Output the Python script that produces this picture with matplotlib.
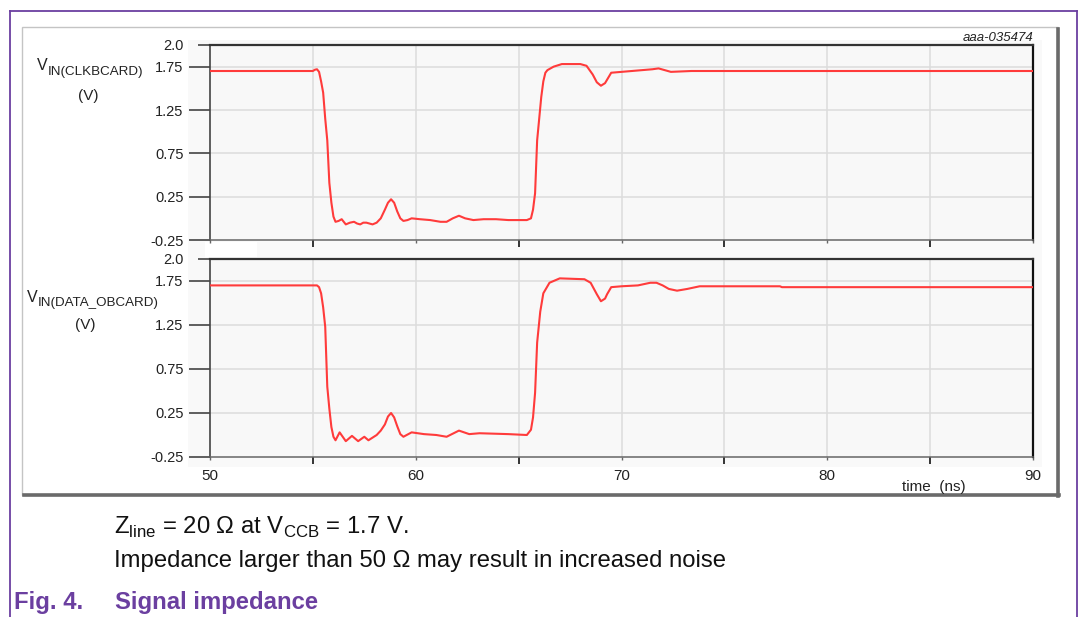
import numpy as np
import matplotlib.pyplot as plt
from matplotlib.lines import Line2D
from matplotlib.patches import Rectangle

plt.rcParams['font.family'] = ['Liberation Sans', 'DejaVu Sans']
plt.rcParams['mathtext.fontset'] = 'custom'
plt.rcParams['mathtext.rm'] = 'Liberation Sans'

# ---------------------------------------------------------------------------
# data (time in ns, voltage in V)
# ---------------------------------------------------------------------------
t_clk = [50.0, 55.0, 55.1, 55.2, 55.3, 55.4, 55.5, 55.6, 55.7, 55.8, 55.9, 56.0,
         56.1, 56.25, 56.4, 56.6, 56.8, 57.0, 57.15, 57.3, 57.45, 57.6, 57.9,
         58.1, 58.3, 58.5, 58.65, 58.8, 58.95, 59.1, 59.25, 59.4, 59.6, 59.8,
         60.2, 60.7, 61.2, 61.5, 61.8, 62.1, 62.4, 62.8, 63.3, 63.9, 64.5,
         65.4, 65.6, 65.7, 65.8, 65.9, 66.0, 66.1, 66.2, 66.3, 66.4, 66.7,
         67.1, 68.0, 68.3, 68.6, 68.8, 69.0, 69.2, 69.3, 69.5, 70.0, 70.5,
         71.0, 71.5, 71.8, 72.1, 72.4, 73.4, 90.0]
v_clk = [1.70, 1.70, 1.715, 1.72, 1.69, 1.58, 1.45, 1.15, 0.90, 0.41, 0.18, 0.02,
         -0.04, -0.03, -0.01, -0.07, -0.05, -0.04, -0.06, -0.07, -0.05, -0.05,
         -0.07, -0.05, 0.00, 0.10, 0.18, 0.22, 0.18, 0.08, 0.00, -0.03, -0.02,
         0.00, -0.01, -0.02, -0.04, -0.04, 0.00, 0.03, 0.00, -0.02, -0.01,
         -0.01, -0.02, -0.02, 0.00, 0.10, 0.29, 0.90, 1.15, 1.40, 1.58, 1.68,
         1.71, 1.75, 1.78, 1.78, 1.76, 1.66, 1.57, 1.53, 1.56, 1.60, 1.68,
         1.69, 1.70, 1.71, 1.72, 1.73, 1.71, 1.69, 1.70, 1.70]

t_data = [50.0, 55.2, 55.3, 55.4, 55.5, 55.6, 55.7, 55.8, 55.9, 56.0, 56.1,
          56.3, 56.45, 56.6, 56.9, 57.2, 57.5, 57.7, 58.1, 58.3, 58.5, 58.65,
          58.8, 58.95, 59.1, 59.25, 59.4, 59.8, 60.4, 61.0, 61.5, 62.1, 62.6,
          63.1, 64.5, 65.4, 65.6, 65.7, 65.8, 65.9, 66.05, 66.2, 66.5, 67.0,
          68.2, 68.5, 68.8, 69.0, 69.2, 69.3, 69.5, 70.0, 70.8, 71.4, 71.7,
          72.0, 72.3, 72.7, 73.2, 73.8, 77.7, 77.8, 90.0]
v_data = [1.70, 1.70, 1.68, 1.61, 1.45, 1.23, 0.55, 0.30, 0.09, -0.02, -0.06,
          0.03, -0.02, -0.07, -0.01, -0.07, -0.02, -0.06, 0.00, 0.05, 0.12,
          0.21, 0.25, 0.20, 0.10, 0.01, -0.02, 0.03, 0.01, 0.00, -0.02, 0.05,
          0.01, 0.02, 0.01, 0.00, 0.06, 0.20, 0.48, 1.05, 1.40, 1.61, 1.73,
          1.78, 1.77, 1.73, 1.60, 1.52, 1.55, 1.60, 1.68, 1.69, 1.70, 1.73,
          1.73, 1.70, 1.66, 1.64, 1.66, 1.69, 1.69, 1.68, 1.68]

y_major = [-0.25, 0.25, 0.75, 1.25, 1.75]
y_major_labels = ['-0.25', '0.25', '0.75', '1.25', '1.75']
y_top = [2.0]
y_top_labels = ['2.0']
x_labelled = [50, 60, 70, 80, 90]
x_long = [55, 65, 75, 85]
x_grid = [55, 60, 65, 70, 75, 80, 85]

W, H = 1079, 617
RED = '#ff3b3b'
PURPLE = '#6b3fa0'
TXT = '#222222'


def fx(px):
    return px / W


def fy(py):
    return 1 - py / H


fig = plt.figure(figsize=(W / 100, H / 100), dpi=100)

# page decorations: purple frame, grey shadowed box, light plot backdrop (behind the axes)
for xs, ys in [([10, 10], [11, 617]), ([10, 1077], [11, 11]), ([1077, 1077], [11, 617])]:
    fig.add_artist(Line2D([fx(v) for v in xs], [fy(v) for v in ys], color=PURPLE, lw=1.3,
                          zorder=-10))
fig.add_artist(Rectangle((fx(22), fy(495)), fx(1058) - fx(22), fy(27) - fy(495),
                         facecolor='white', edgecolor='#c4c4c4', lw=1.0, zorder=-10))
fig.add_artist(Line2D([fx(1058), fx(1058)], [fy(29), fy(496)], color='#6a6a6a', lw=2.6,
                      zorder=-9))
fig.add_artist(Line2D([fx(24), fx(1059)], [fy(495), fy(495)], color='#6a6a6a', lw=2.6,
                      zorder=-9))
fig.add_artist(Rectangle((fx(188), fy(467)), fx(1042) - fx(188), fy(40) - fy(467),
                         facecolor='#f9f9f9', edgecolor='none', zorder=-8))
fig.add_artist(Rectangle((fx(205), fy(257)), fx(257) - fx(205), fy(242) - fy(257),
                         facecolor='white', edgecolor='none', zorder=-7))

ax_top = fig.add_axes([fx(210), fy(240), fx(1033) - fx(210), fy(45) - fy(240)])
ax_bot = fig.add_axes([fx(210), fy(457), fx(1033) - fx(210), fy(259) - fy(457)])

for ax, t, v in [(ax_top, t_clk, v_clk), (ax_bot, t_data, v_data)]:
    ax.set_facecolor('#f8f8f8')
    ax.plot(t, v, color=RED, lw=1.5, solid_joinstyle='round', zorder=3)
    ax.set_xlim(50, 90)
    ax.set_ylim(-0.25, 2.0)
    for g in x_grid:
        ax.axvline(g, color='#dcdcdc', lw=1.1, zorder=1)
    for g in y_major[1:]:
        ax.axhline(g, color='#dcdcdc', lw=1.1, zorder=1)

    ax.set_yticks(y_major, y_major_labels)
    ax.set_yticks(y_top, y_top_labels, minor=True)
    ax.tick_params(axis='y', which='major', direction='out', length=15, width=1.2,
                   color='#444444', pad=4.0, labelsize=10.5, labelcolor=TXT)
    ax.tick_params(axis='y', which='minor', direction='out', length=8.6, width=1.2,
                   color='#444444', pad=10.4, labelsize=10.5, labelcolor=TXT)

    ax.set_xticks(x_labelled)
    ax.set_xticks(x_long, minor=True)
    ax.tick_params(axis='x', which='major', direction='out', length=2.5, width=1.0,
                   color='#666666', pad=6.0, labelsize=11, labelcolor=TXT)
    ax.tick_params(axis='x', which='minor', direction='out', length=5, width=1.4,
                   color='#333333')

    ax.spines['top'].set_color('#333333')
    ax.spines['top'].set_linewidth(1.6)
    ax.spines['left'].set_color('#444444')
    ax.spines['left'].set_linewidth(1.2)
    ax.spines['right'].set_color('#111111')
    ax.spines['right'].set_linewidth(1.6)
    ax.spines['bottom'].set_color('#666666')
    ax.spines['bottom'].set_linewidth(1.1)

ax_top.tick_params(axis='x', labelbottom=False)

# y axis labels (V with large subscript)
fig.text(fx(37), fy(65), 'V', fontsize=11.5, color=TXT, va='center', ha='left')
fig.text(fx(48), fy(72), 'IN(CLKBCARD)', fontsize=9.6, color=TXT, va='center', ha='left')
fig.text(fx(88), fy(96), '(V)', fontsize=11, color=TXT, va='center', ha='center')
fig.text(fx(27), fy(297), 'V', fontsize=11.5, color=TXT, va='center', ha='left')
fig.text(fx(38), fy(303), 'IN(DATA_OBCARD)', fontsize=9.6, color=TXT, va='center', ha='left')
fig.text(fx(85), fy(325), '(V)', fontsize=11, color=TXT, va='center', ha='center')

fig.text(fx(1033), fy(38), 'aaa-035474', fontsize=9.5, style='italic', color=TXT,
         ha='right', va='center')
fig.text(fx(934), fy(487), 'time  (ns)', fontsize=11, color=TXT, ha='center', va='center')

# caption
fig.text(fx(114), fy(527), r'Z$_{\mathrm{line}}$ = 20 Ω at V$_{\mathrm{CCB}}$ = 1.7 V.',
         fontsize=17.2, color='#111111', ha='left', va='center')
fig.text(fx(114), fy(561), 'Impedance larger than 50 Ω may result in increased noise',
         fontsize=17.2, color='#111111', ha='left', va='center')
fig.text(fx(14), fy(603), 'Fig. 4.', fontsize=17.2, fontweight='bold', color=PURPLE,
         ha='left', va='center')
fig.text(fx(115), fy(603), 'Signal impedance', fontsize=17.2, fontweight='bold', color=PURPLE,
         ha='left', va='center')

fig.savefig('out.png', dpi=100)
